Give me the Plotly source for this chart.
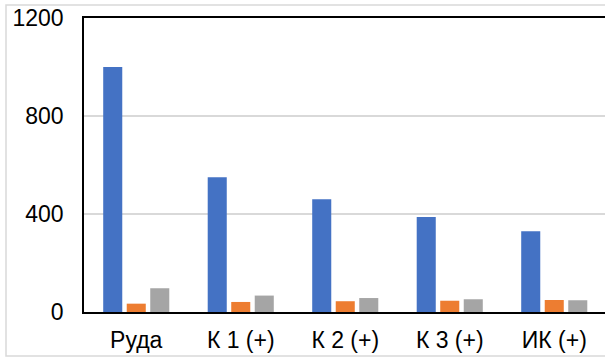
import plotly.graph_objects as go

categories = ["Руда", "К 1 (+)", "К 2 (+)", "К 3 (+)", "ИК (+)"]
series_a = [1000, 550, 460, 388, 330]
series_b = [34, 41, 44, 46, 49]
series_c = [97, 67, 57, 52, 48]
y_ticks = [0, 400, 800, 1200]

colors = ["#4472C4", "#ED7D31", "#A5A5A5"]

fig = go.Figure()
for vals, col in zip([series_a, series_b, series_c], colors):
    fig.add_trace(go.Bar(x=categories, y=vals, marker=dict(color=col, line=dict(width=0))))

W, H = 605, 358
L, T, B, R = 84, 18, 46, 0
plot_w = W - L - R
plot_h = H - T - B

fig.update_layout(
    width=W, height=H,
    margin=dict(l=L, r=R, t=T, b=B),
    paper_bgcolor="white", plot_bgcolor="white",
    barmode="group", bargap=0.325, bargroupgap=0.19,
    showlegend=False,
    font=dict(family="Liberation Sans, Arial, sans-serif", size=23, color="black"),
)
fig.update_xaxes(
    type="category",
    range=[-0.5, -0.5 + plot_w / 104.5],
    showline=True, linecolor="black", linewidth=1.5, mirror=True,
    showgrid=False, ticks="", ticklabelstandoff=7,
)
fig.update_yaxes(
    range=[0, 1200], tickvals=y_ticks,
    showline=True, linecolor="black", linewidth=1.5,
    showgrid=True, gridcolor="#D9D9D9", gridwidth=1.5,
    zeroline=False, ticks="", ticklabelstandoff=14,
)

# light frame around the chart area
fig.add_shape(
    type="rect", xref="paper", yref="paper",
    x0=(6 - L) / plot_w, x1=1.05,
    y0=(H - B - 356) / plot_h, y1=(H - B - 5) / plot_h,
    line=dict(color="#D9D9D9", width=1.5), layer="below",
)

fig.write_html("out.html")
